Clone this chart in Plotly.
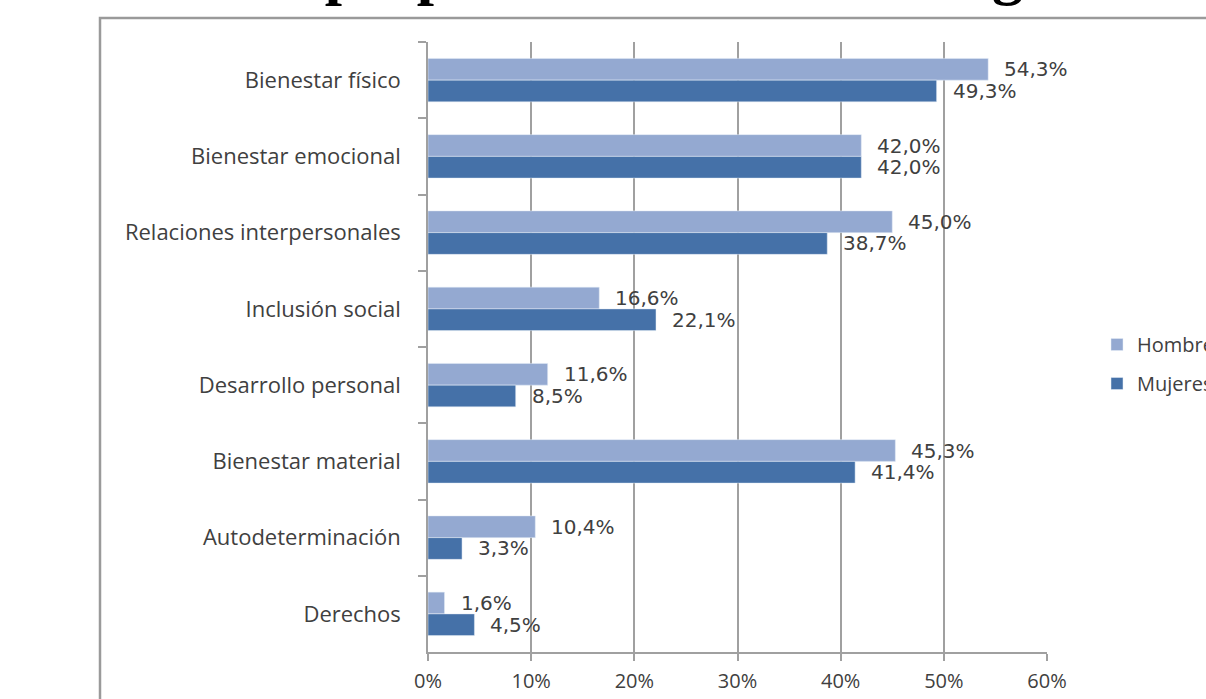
import plotly.graph_objects as go

categories = ["Bienestar físico", "Bienestar emocional", "Relaciones interpersonales",
              "Inclusión social", "Desarrollo personal", "Bienestar material",
              "Autodeterminación", "Derechos"]
hombres = [54.3, 42.0, 45.0, 16.6, 11.6, 45.3, 10.4, 1.6]
mujeres = [49.3, 42.0, 38.7, 22.1, 8.5, 41.4, 3.3, 4.5]
x_ticks = [0, 10, 20, 30, 40, 50, 60]
x_tick_labels = ["0%", "10%", "20%", "30%", "40%", "50%", "60%"]
title_text = "Áreas de propuesta en función del género"

C_H = "#94A9D1"
C_M = "#4571A8"
GRAY = "#a0a0a0"
TXT = "#404040"
FONT = "Open Sans"

W, H = 1206, 699
L, R, T, B = 428, 1206 - 1047, 42, 699 - 652
pw, ph = W - L - R, H - T - B

def px_x(p):
    return (p - L) / pw

def px_y(p):
    return (H - B - p) / ph

fig = go.Figure()
fig.add_trace(go.Bar(y=categories, x=hombres, name="Hombres", orientation="h",
                     marker=dict(color=C_H), legendgroup="h"))
fig.add_trace(go.Bar(y=categories, x=mujeres, name="Mujeres", orientation="h",
                     marker=dict(color=C_M), legendgroup="m"))

def fmt(v):
    return f"{v:.1f}".replace(".", ",") + "%"

half = ph / len(categories) * (1 - 0.43) / 4
ann = []
for c, v in zip(categories, hombres):
    ann.append(dict(x=v, y=c, xref="x", yref="y", text=fmt(v), showarrow=False,
                    xanchor="left", yanchor="middle", xshift=14, yshift=half,
                    font=dict(family="DejaVu Sans", size=20, color=TXT)))
for c, v in zip(categories, mujeres):
    ann.append(dict(x=v, y=c, xref="x", yref="y", text=fmt(v), showarrow=False,
                    xanchor="left", yanchor="middle", xshift=14, yshift=-half,
                    font=dict(family="DejaVu Sans", size=20, color=TXT)))
ann.append(dict(x=px_x(76), y=px_y(8), xref="paper", yref="paper", text="<b>" + title_text + "</b>",
                showarrow=False, xanchor="left", yanchor="bottom",
                font=dict(family="Liberation Serif", size=62, color="#000000")))

fig.update_layout(
    width=W, height=H,
    margin=dict(l=L, r=R, t=T, b=B, autoexpand=False),
    paper_bgcolor="white", plot_bgcolor="white",
    barmode="group", bargap=0.43, bargroupgap=0,
    annotations=ann,
    shapes=[dict(type="rect", xref="paper", yref="paper",
                 x0=px_x(100), x1=px_x(1300), y0=px_y(760), y1=px_y(18),
                 line=dict(color="#9a9a9a", width=2.5), fillcolor="rgba(0,0,0,0)", layer="below")],
    showlegend=True,
    legend=dict(x=px_x(1097), y=px_y(325), xanchor="left", yanchor="top",
                xref="paper", yref="paper",
                font=dict(family=FONT, size=20, color=TXT),
                traceorder="grouped", tracegroupgap=10, bgcolor="rgba(0,0,0,0)"),
    xaxis=dict(range=[0, 60], tickmode="array", tickvals=x_ticks, ticktext=x_tick_labels,
               showgrid=True,
               gridcolor=GRAY, gridwidth=1.5, showline=True, linecolor=GRAY, linewidth=1.5,
               ticks="outside", ticklen=7, tickcolor=GRAY, tickwidth=1.5, zeroline=False,
               tickfont=dict(family=FONT, size=20, color=TXT), ticklabelstandoff=3),
    yaxis=dict(autorange="reversed", showline=True, linecolor=GRAY, linewidth=1.5,
               ticks="outside", ticklen=8, tickcolor=GRAY, tickwidth=1.5, tickson="boundaries",
               showgrid=False, tickfont=dict(family=FONT, size=22, color=TXT),
               ticklabelstandoff=21),
)

fig.write_html("out.html")
